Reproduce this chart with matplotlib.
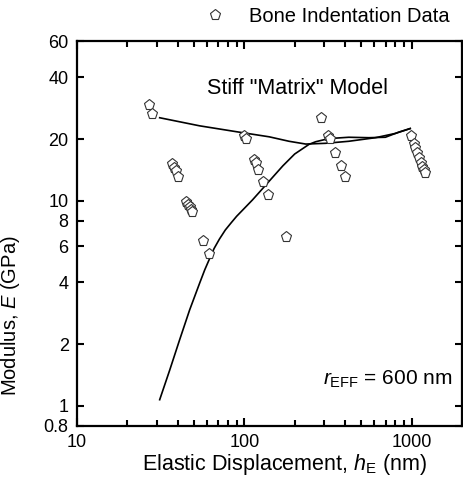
import matplotlib
matplotlib.use("Agg")
import matplotlib.pyplot as plt
from matplotlib.ticker import FixedLocator, FixedFormatter, NullLocator, LogLocator

plt.rcParams["font.family"] = "Liberation Sans"
plt.rcParams["mathtext.fontset"] = "custom"
plt.rcParams["mathtext.rm"] = "Liberation Sans"
plt.rcParams["mathtext.it"] = "Liberation Sans:italic"

# bone indentation data (nm, GPa)
data_h = [26.9, 28.2,
          37.1, 38.0, 38.8, 40.1,
          45.0, 46.0, 47.1, 48.2, 48.8,
          57.0, 61.9,
          100, 102, 114.8, 117.4, 121, 130, 139,
          177, 286, 318, 324, 348, 377, 399,
          995, 1028, 1052, 1076, 1112, 1136, 1161, 1189, 1207]
data_E = [29.3, 26.5,
          15.1, 14.4, 14.0, 13.0,
          9.89, 9.53, 9.29, 9.01, 8.84,
          6.36, 5.48,
          20.7, 20.1, 15.8, 15.2, 14.2, 12.4, 10.7,
          6.63, 25.3, 20.7, 19.9, 17.0, 14.8, 13.0,
          20.7, 19.0, 18.0, 17.0, 16.1, 15.3, 14.6, 14.1, 13.7]

# stiff "matrix" model curve
stiff_h = [31.2, 54, 93.3, 141, 185, 233, 306, 421, 608, 800, 981]
stiff_E = [25.4, 23.2, 21.6, 20.5, 19.5, 18.9, 19.06, 19.5, 20.3, 21.3, 22.5]

# rising model curve
rise_h = [31.2, 35.8, 41.0, 47.1, 54.0, 58.0, 61.9, 66.0, 71.0, 77.0, 83.4, 90.0, 97.7,
          112, 128.5, 150, 170, 200, 244, 267, 320, 421, 556, 697, 837, 981]
rise_E = [1.07, 1.49, 2.09, 2.93, 3.95, 4.6, 5.2, 5.85, 6.5, 7.2, 7.8, 8.4, 9.0,
          10.1, 11.45, 13.2, 14.8, 16.9, 18.85, 19.4, 20.1, 20.4, 20.3, 20.4, 21.6, 22.5]

yticks = [0.8, 1, 2, 4, 6, 8, 10, 20, 40, 60]
ylabels = ["0.8", "1", "2", "4", "6", "8", "10", "20", "40", "60"]

fig = plt.figure(figsize=(4.63, 4.82), dpi=100)
ax = fig.add_axes([0.1663, 0.117, 0.8315, 0.7975])

ax.plot(stiff_h, stiff_E, color="black", lw=1.2)
ax.plot(rise_h, rise_E, color="black", lw=1.2)
ax.plot(data_h, data_E, "p", ms=8, mfc="white", mec="#333333", mew=0.8,
        ls="none", label="Bone Indentation Data")

ax.set_xscale("log")
ax.set_yscale("log")
ax.set_xlim(10, 2000)
ax.set_ylim(0.8, 60)

ax.xaxis.set_major_locator(FixedLocator([10, 100, 1000]))
ax.xaxis.set_major_formatter(FixedFormatter(["10", "100", "1000"]))
ax.xaxis.set_minor_locator(LogLocator(base=10, subs=range(2, 10)))
ax.yaxis.set_major_locator(FixedLocator(yticks))
ax.yaxis.set_major_formatter(FixedFormatter(ylabels))
ax.yaxis.set_minor_locator(NullLocator())

ax.tick_params(which="both", direction="in", top=True, right=True, width=1.5,
               labelsize=13)
ax.tick_params(axis="x", which="major", length=6, pad=6)
ax.tick_params(axis="x", which="minor", length=4)
ax.tick_params(axis="y", which="major", length=5, pad=6)
for s in ax.spines.values():
    s.set_linewidth(1.6)

ax.set_xlabel(r"Elastic Displacement, $h_{\rm E}$ (nm)", fontsize=15.5, labelpad=1)
ax.xaxis.set_label_coords(0.538, -0.068)
ax.set_ylabel(r"Modulus, $E$ (GPa)", fontsize=14.5, labelpad=4)
ax.yaxis.set_label_coords(-0.143, 0.285)

ax.text(0.573, 0.878, 'Stiff "Matrix" Model', transform=ax.transAxes,
        ha="center", va="center", fontsize=15.5)
ax.text(0.976, 0.106, r"$r_{\rm EFF}$ = 600 nm", transform=ax.transAxes,
        ha="right", va="baseline", fontsize=15)

fig.legend(loc="center", bbox_to_anchor=(322 / 463, 1 - 17 / 482), frameon=False,
           fontsize=14.5, handletextpad=0.7, borderpad=0, markerscale=1.0)

fig.savefig("out.png", dpi=100)
